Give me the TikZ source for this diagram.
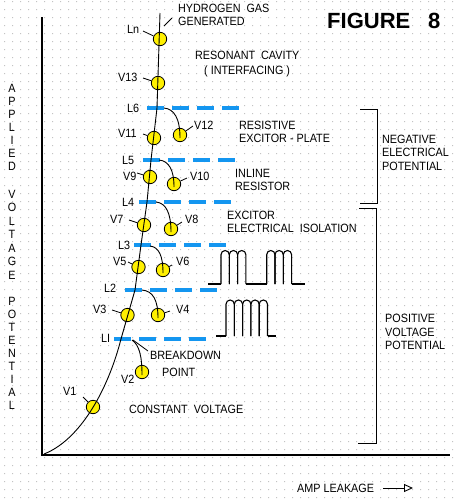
\documentclass[tikz,border=0pt]{standalone}
\usepackage{fontspec}
\setmainfont[FakeStretch=0.9]{Liberation Sans}
\newfontfamily\figfont{Liberation Sans}
\usetikzlibrary{arrows.meta,calc}
\definecolor{dashblue}{RGB}{20,150,240}
\definecolor{vyellow}{RGB}{255,240,0}
\definecolor{dotgray}{RGB}{195,195,195}
\begin{document}
\begin{tikzpicture}[x=1pt,y=1pt,yscale=-1,
  lbl/.style={font=\fontsize{12}{12}\selectfont, inner sep=0pt, anchor=west, text height=8.6pt, text depth=0pt},
  vl/.style={lbl, anchor=center},
  vc/.style={circle, draw=black, fill=vyellow, line width=0.8pt, minimum size=13.4pt, inner sep=0pt},
  lev/.style={draw=dashblue, line width=4pt, dash pattern=on 17pt off 8pt},
  leader/.style={draw=black, line width=0.8pt},
  mainl/.style={draw=black, line width=0.9pt},
  pulse/.style={draw=black, line width=1.1pt},
  axis/.style={draw=black, line width=1.5pt},
  brk/.style={draw=black, line width=0.9pt},
]
\useasboundingbox (0,0) rectangle (459,499);
\fill[white] (0,0) rectangle (459,499);
% dotted background
\fill[dotgray] \foreach \i in {0,...,56} {\foreach \j in {0,...,62} {(4+8*\i,1+8*\j) rectangle ++(1,1)}};

% axes
\coordinate (ytop) at (42,17);
\coordinate (orig) at (42,455);
\coordinate (xend) at (450,455);
\draw[axis] (ytop) -- (orig) -- (xend);

% vertical axis title
\foreach \ch/\yy [count=\k] in {A/88,P/101,P/114,L/127,I/140,E/153,D/166,
  V/194,O/207.5,L/221,T/234.5,A/248,G/261.5,E/275,
  P/301,O/314,T/327,E/340,N/353,T/366,I/379,A/392,L/405}
  {\node[vl] (yl\k) at (12,\yy) {\ch};}

% level dashed lines
\draw[lev] (114,339) coordinate (l1a) -- ++(92,0) coordinate (l1b);
\draw[lev] (125,290) coordinate (l2a) -- ++(92,0) coordinate (l2b);
\draw[lev] (134,245) coordinate (l3a) -- ++(92,0) coordinate (l3b);
\draw[lev] (139,202) coordinate (l4a) -- ++(92,0) coordinate (l4b);
\draw[lev] (143,160) coordinate (l5a) -- ++(92,0) coordinate (l5b);
\draw[lev] (147,108) coordinate (l6a) -- ++(92,0) coordinate (l6b);

% circles
\node[vc] (vn) at (160,39) {};
\node[vc] (v13) at (158,83) {};
\node[vc] (v11) at (154,138) {};
\node[vc] (v12) at (180,135) {};
\node[vc] (v9) at (150,177) {};
\node[vc] (v10) at (174,184) {};
\node[vc] (v7) at (144,225) {};
\node[vc] (v8) at (171,229) {};
\node[vc] (v5) at (138.5,267) {};
\node[vc] (v6) at (163,270) {};
\node[vc] (v3) at (127.5,315) {};
\node[vc] (v4) at (158,315) {};
\node[vc] (v2) at (142,372) {};
\node[vc] (v1) at (93,407) {};

% main line
\coordinate (top) at (160,13);
\coordinate (j6) at (157,108);
\coordinate (j5) at (151,160);
\coordinate (j4) at (147,202);
\coordinate (j3) at (141,245);
\coordinate (j2) at (135,290);
\coordinate (j1) at (121,339);
\coordinate (org) at (44,454);
\draw[mainl] (org) .. controls (80,440) and (108,390) .. (j1) -- (j2) -- (j3) -- (j4) -- (j5) -- (j6) -- (top);

% branches
\coordinate (b6) at (164,108);
\coordinate (b5) at (159,160);
\coordinate (b4) at (156,202);
\coordinate (b3) at (150,246);
\coordinate (b2) at (142,290);
\coordinate (b1) at (132,340);
\draw[mainl] (b6) .. controls (174,109) and (180,118) .. ($(v12)+(0,3)$);
\draw[mainl] (b5) .. controls (169,161) and (174,170) .. ($(v10)+(0,3)$);
\draw[mainl] (b4) .. controls (166,203) and (171,213) .. ($(v8)+(0,3)$);
\draw[mainl] (b3) .. controls (159,247) and (163,256) .. ($(v6)+(0,3)$);
\draw[mainl] (b2) .. controls (153,291) and (158,300) .. ($(v4)+(0,3)$);
\draw[mainl] (b1) .. controls (139,345) and (142,355) .. ($(v2)+(0,3)$);

% leaders
\draw[leader] (143,31) coordinate (a0) -- (vn);
\draw[leader] (143,78) coordinate (a13) -- (v13);
\draw[leader] (143,134) coordinate (a11) -- (v11);
\draw[leader] (193,126) coordinate (a12) -- (v12);
\draw[leader] (137,173) coordinate (a9) -- (v9);
\draw[leader] (187,178) coordinate (a10) -- (v10);
\draw[leader] (129,220) coordinate (a7) -- (v7);
\draw[leader] (182,222) coordinate (a8) -- (v8);
\draw[leader] (128,262) coordinate (a5) -- (v5);
\draw[leader] (172,265) coordinate (a6) -- (v6);
\draw[leader] (112,310) coordinate (a3) -- (v3);
\draw[leader] (170,311) coordinate (a4) -- (v4);
\draw[leader] (83,397) coordinate (a1) -- (v1);
\draw[leader] (164,26) coordinate (h1) -- (172,18) coordinate (h2);
\draw[leader] (133,340) coordinate (k1) -- (148,351) coordinate (k2);

% point labels
\node[lbl] (tln) at (127,29) {Ln};
\node[lbl] (t13) at (118,77.5) {V13};
\node[lbl] (tl6) at (127,108) {L6};
\node[lbl] (t11) at (118,133.5) {V11};
\node[lbl] (t12) at (194,125.5) {V12};
\node[lbl] (tl5) at (122,160) {L5};
\node[lbl] (t9) at (123,176.5) {V9};
\node[lbl] (t10) at (190,176.5) {V10};
\node[lbl] (tl4) at (122,202.5) {L4};
\node[lbl] (t7) at (110,219.5) {V7};
\node[lbl] (t8) at (185,219.5) {V8};
\node[lbl] (tl3) at (118,245) {L3};
\node[lbl] (t5) at (113,261.5) {V5};
\node[lbl] (t6) at (176,261.5) {V6};
\node[lbl] (tl2) at (104,288.5) {L2};
\node[lbl] (t3) at (93,309.5) {V3};
\node[lbl] (t4) at (176,309.5) {V4};
\node[lbl] (tl1) at (101,338.5) {LI};
\node[lbl] (t2) at (121,379.5) {V2};
\node[lbl] (t1) at (63,391.5) {V1};

% descriptive text
\node[lbl] (hy1) at (178,8) {HYDROGEN~ GAS};
\node[lbl] (hy2) at (178,21.5) {GENERATED};
\node[lbl] (rc1) at (195,55.5) {RESONANT~ CAVITY};
\node[lbl] (rc2) at (204,70) {( INTERFACING )};
\node[lbl] (re1) at (239,125.5) {RESISTIVE};
\node[lbl] (re2) at (239,138.5) {EXCITOR - PLATE};
\node[lbl] (in1) at (235,173) {INLINE};
\node[lbl] (in2) at (235,186) {RESISTOR};
\node[lbl] (ex1) at (227,215.5) {EXCITOR};
\node[lbl] (ex2) at (227,228.5) {ELECTRICAL~ ISOLATION};
\node[lbl] (bk1) at (150,355) {BREAKDOWN};
\node[lbl] (bk2) at (162,372) {POINT};
\node[lbl] (cv) at (129,409.5) {CONSTANT~ VOLTAGE};
\node[lbl] (ng1) at (382,139) {NEGATIVE};
\node[lbl] (ng2) at (382,152.5) {ELECTRICAL};
\node[lbl] (ng3) at (382,166) {POTENTIAL};
\node[lbl] (ps1) at (385,318.5) {POSITIVE};
\node[lbl] (ps2) at (385,332) {VOLTAGE};
\node[lbl] (ps3) at (385,345) {POTENTIAL};
\node[lbl] (amp) at (297,488) {AMP LEAKAGE};
\node[font=\figfont\fontsize{22}{22}\selectfont\bfseries, inner sep=0pt, anchor=west, text height=15.8pt, text depth=0pt] (fig) at (327,21) {FIGURE};
\node[font=\figfont\fontsize{22}{22}\selectfont\bfseries, inner sep=0pt, anchor=west, text height=15.8pt, text depth=0pt] (fig8) at (428,21) {8};

% arrow
\coordinate (ar1) at (383,488);
\coordinate (ar2) at (413,488);
\draw[line width=0.9pt, -{Triangle[open,length=9pt,width=8pt]}] (ar1) -- (ar2);

% pulse trains
\draw[pulse] (208,284) -- (221,284);
\foreach \x in {221,229.3,237.6}
  {\draw[pulse] (\x,284) -- (\x,254.65) arc[start angle=180,end angle=360,radius=4.15] -- (\x+8.3,284);}
\draw[pulse] (245.9,284) -- (266.7,284);
\foreach \x in {266.7,275,283.3}
  {\draw[pulse] (\x,284) -- (\x,254.65) arc[start angle=180,end angle=360,radius=4.15] -- (\x+8.3,284);}
\draw[pulse] (291.6,284) -- (305,284);
\draw[pulse] (216,336) -- (226,336);
\foreach \x in {226,234.3,242.6,250.9,259.2}
  {\draw[pulse] (\x,336) -- (\x,304.15) arc[start angle=180,end angle=360,radius=4.15] -- (\x+8.3,336);}
\draw[pulse] (267.5,336) -- (276,336);

% brackets
\draw[brk] (360,109) coordinate (n1) -- (377,109) -- (377,203) -- (360,203) coordinate (n2);
\draw[brk] (359,208) coordinate (p1) -- (376,208) -- (376,443) -- (358,443) coordinate (p2);
\end{tikzpicture}
\end{document}
